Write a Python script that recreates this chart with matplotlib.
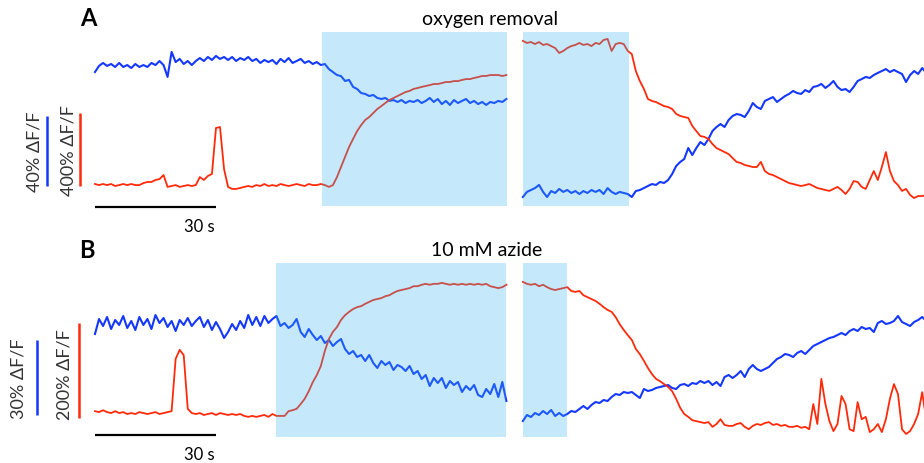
import numpy as np
import matplotlib
matplotlib.use("Agg")
import matplotlib.pyplot as plt

plt.rcParams["font.family"] = ["Lato", "DejaVu Sans"]

# sampling: one value per second; the right-hand segment is shown after a short break
DT = 1.0
RIGHT_START = 106.1

# ---- panel A: oxygen removal (blue and red in % dF/F) ----
a_blue_left = [
    -4.6, -1.1, 0.6, -1.1, 0, -1.7, 0.6, -1.7, -0.6, -2.3, 0, -1.7, -0.6, -1.7, 0.6, -0.6,
    1.7, -0.6, -7.4, 6.9, 1.1, 2.9, 0, 1.7, -0.6, 1.7, 3.4, 1.7, 4.0, 2.3, 4.6, 2.9,
    4.0, 2.3, 4.0, 1.7, 3.4, 2.3, 4.0, 1.7, 2.9, 0.6, 2.3, 1.1, 2.3, 0, 2.9, 1.1,
    3.4, 0.6, 1.7, 2.9, 0.6, 1.7, 0, 1.1, -0.6, 0, -2.9, -4.6, -6.3, -6.9, -9.7, -9.1,
    -13.1, -14.3, -16.6, -17.1, -18.3, -17.7, -19.4, -20.0, -19.4, -21.1, -20.6, -21.7,
    -20.6, -22.3, -21.1, -21.7, -20.6, -22.3, -21.1, -19.4, -21.7, -20.0, -22.9, -21.1,
    -23.4, -20.6, -22.3, -21.1, -20.0, -22.3, -21.1, -22.9, -21.7, -23.4, -21.7, -22.3,
    -21.1, -21.7, -20.0,
]
a_red_left = [
    11, 5, 11, 5, 11, 0, 5, 11, 5, 11, 5, 5, 16, 22, 22, 33, 38, 60, -5, 0, 5, -5, 0, 5,
    0, 5, 49, 33, 55, 66, 318, 323, 93, -5, -16, -16, -11, -5, 0, -5, 5, 0, 11, 0, 5, 0,
    11, 5, 0, 5, 11, 5, 0, 11, 5, 5, 11, 5, -5, 5, 49, 104, 159, 214, 258, 301, 334, 362,
    378, 400, 422, 438, 455, 471, 482, 493, 504, 515, 521, 532, 537, 543, 548, 553, 559,
    559, 564, 570, 570, 575, 575, 581, 586, 586, 592, 597, 603, 603, 608, 608, 608, 603,
    608,
]
a_blue_right = [
    -76.0, -73.1, -72.0, -70.9, -69.1, -73.1, -76.0, -72.6, -73.7, -71.4, -73.1, -72.0,
    -73.7, -72.6, -74.3, -72.6, -73.7, -72.0, -73.1, -72.0, -74.3, -70.9, -73.1, -74.3,
    -73.1, -73.7, -74.3, -76.0, -72.6, -72.0, -70.9, -69.7, -68.6, -69.1, -67.4, -68.0,
    -66.3, -62.9, -58.3, -56.0, -54.3, -48.0, -52.0, -48.0, -44.6, -46.3, -42.9, -38.3,
    -36.0, -34.3, -36.0, -32.0, -29.7, -28.6, -29.1, -30.3, -26.9, -22.3, -24.6, -25.7,
    -21.1, -20.0, -18.9, -21.7, -20.0, -18.3, -17.1, -15.4, -16.6, -17.1, -14.9, -16.0,
    -13.1, -12.6, -11.4, -13.7, -12.0, -9.7, -13.1, -14.9, -14.3, -16.0, -13.1, -9.7,
    -8.6, -7.4, -8.0, -6.3, -5.1, -4.0, -2.9, -4.6, -3.4, -4.6, -5.7, -10.3, -6.3, -4.0,
    -5.7, -2.3, -5.1,
]
a_red_right = [
    795, 784, 789, 778, 789, 773, 778, 767, 756, 729, 740, 756, 767, 773, 784, 773, 778,
    767, 784, 778, 800, 806, 740, 778, 784, 778, 740, 723, 630, 575, 532, 477, 466, 460,
    449, 438, 433, 422, 395, 384, 378, 373, 329, 301, 274, 269, 258, 230, 208, 197, 186,
    175, 153, 132, 126, 115, 110, 104, 104, 132, 82, 66, 60, 49, 38, 27, 16, 11, 5, 0, 5,
    11, 0, -11, -16, -22, -27, -16, -5, -22, -44, -16, 27, 22, -5, -16, 33, 82, 33, 104,
    186, 82, 27, 5, -27, -16, -49, -66, -55, -55, -49,
]

# ---- panel B: 10 mM azide ----
b_blue_left = [
    -4.0, 2.0, -0.8, 2.8, -2.0, 1.6, -0.4, 3.2, -1.6, 1.2, -2.4, 2.8, -0.4, 2.0, -2.0,
    3.6, 0.4, 2.4, -1.2, 1.2, -2.8, 1.6, -0.4, 2.4, -0.8, 1.2, 2.8, -1.2, 1.6, -2.4, 0.8,
    -2.0, -5.6, -3.2, 0, -2.4, 1.2, -1.6, 3.6, -0.4, 2.8, -0.8, 3.2, 0.4, 2.0, 3.2, -0.8,
    0.4, -1.6, -0.4, 2.0, -3.2, -5.2, -2.0, -4.4, -6.4, -4.8, -7.6, -6.4, -8.8, -7.2,
    -6.0, -10.0, -12.0, -10.8, -13.2, -12.4, -14.8, -12.4, -15.6, -17.6, -14.8, -16.4,
    -15.2, -18.4, -16.4, -17.2, -18.8, -16.8, -20.0, -18.8, -22.0, -20.4, -24.8, -21.6,
    -23.6, -21.6, -25.6, -22.8, -24.4, -23.2, -27.2, -24.8, -26.4, -24.4, -28.4, -29.2,
    -26.0, -28.0, -24.0, -29.2, -23.2, -30.8,
]
b_red_left = [
    6, 4, 8, 4, 2, 6, 2, 4, 0, 2, 0, 4, 2, 0, 2, 4, 0, 2, 4, 6, 116, 135, 124, 11, 2, 0,
    2, -2, 0, 2, -2, 2, 0, -2, 0, -2, 0, -4, -6, -4, -6, -4, -2, -6, 0, -4, -4, -4, 6, 8,
    11, 21, 32, 48, 67, 82, 101, 133, 158, 173, 183, 198, 208, 215, 221, 225, 227, 232,
    236, 240, 242, 244, 248, 250, 255, 259, 261, 263, 265, 269, 269, 272, 274, 272, 274,
    274, 276, 274, 272, 274, 272, 274, 272, 274, 272, 274, 272, 274, 269, 267, 265, 267,
    272,
]
b_blue_right = [
    -38.8, -36.4, -37.2, -35.6, -36.4, -34.8, -36.0, -34.4, -36.8, -35.6, -36.8, -36.0,
    -34.8, -35.2, -34.0, -32.8, -34.0, -32.4, -31.2, -31.6, -30.4, -30.8, -29.2, -28.0,
    -28.4, -27.2, -27.6, -27.2, -28.4, -29.6, -26.0, -26.8, -26.4, -25.6, -25.2, -24.8,
    -24.4, -25.6, -26.0, -24.4, -24.0, -24.8, -23.6, -24.0, -22.8, -23.6, -22.8, -24.4,
    -23.2, -24.8, -21.2, -20.4, -21.6, -20.4, -18.8, -21.2, -18.0, -16.4, -18.0, -18.8,
    -18.0, -17.2, -15.6, -14.0, -13.2, -12.0, -12.4, -13.2, -11.6, -10.8, -12.0, -10.4,
    -8.8, -8.0, -7.2, -6.4, -5.6, -5.2, -4.4, -3.6, -4.4, -2.8, -2.0, -2.8, -1.2, -2.0,
    -1.6, -3.2, 0.4, 1.2, 0, 0.4, 1.2, 3.2, 0.8, 0, -0.8, 0.8, 1.6, 2.8, 1.2,
]
b_red_right = [
    278, 274, 272, 274, 269, 272, 267, 263, 261, 263, 265, 267, 259, 257, 259, 250, 246,
    242, 238, 232, 225, 219, 215, 204, 189, 177, 166, 156, 137, 126, 112, 97, 84, 74, 69,
    63, 57, 48, 32, 13, 0, -6, -13, -15, -17, -19, -17, -27, -21, -11, -23, -25, -25,
    -21, -19, -27, -32, -25, -21, -23, -19, -17, -23, -21, -25, -23, -27, -27, -25, -29,
    -27, -32, 21, -21, 74, 21, -15, -36, -21, 38, 21, -32, -36, 25, -11, -6, -38, -32,
    -21, -38, -11, 32, 63, 42, -32, -42, -36, -21, 0, 46, -11,
]

# drug application windows (s, on the plotted time axis)
a_windows = [(56.3, 102.2), (106.1, 132.4)]
b_windows = [(44.9, 101.9), (106.1, 117.0)]

BLUE = "#1438ff"
RED = "#ff2a0a"
SHADE = "#37b0f1"

fig = plt.figure(figsize=(9.24, 4.64), dpi=100)

panels = [
    dict(blue_l=a_blue_left, red_l=a_red_left, blue_r=a_blue_right, red_r=a_red_right,
         windows=a_windows, rect=[0, 0.5, 1, 0.5],
         blue_lim=(-95.43, 37.14), red_lim=(-246.6, 1024.8), span=(0.108, 0.858),
         tbar_y=-81.7, bbar=(-11.9, -70, 40), rbar=(-3.7, 0, 400)),
    dict(blue_l=b_blue_left, red_l=b_red_left, blue_r=b_blue_right, red_r=b_red_right,
         windows=b_windows, rect=[0, 0, 1, 0.5],
         blue_lim=(-55.6, 37.2), red_lim=(-103.1, 385.2), span=(0.114, 0.862),
         tbar_y=-44.4, bbar=(-14.4, -36.4, 30), rbar=(-4.0, -8, 200)),
]

for p in panels:
    ax = fig.add_axes(p["rect"])
    axr = ax.twinx()
    for a in (ax, axr):
        a.set_xlim(-23.55, 205.55)
        a.axis("off")
    ax.set_ylim(*p["blue_lim"])
    axr.set_ylim(*p["red_lim"])

    t_left = np.arange(len(p["blue_l"])) * DT
    t_right = RIGHT_START + np.arange(len(p["blue_r"])) * DT
    ax.plot(t_left, p["blue_l"], color=BLUE, lw=1.5)
    ax.plot(t_right, p["blue_r"], color=BLUE, lw=1.5)
    axr.plot(np.arange(len(p["red_l"])) * DT, p["red_l"], color=RED, lw=1.3)
    axr.plot(RIGHT_START + np.arange(len(p["red_r"])) * DT, p["red_r"], color=RED, lw=1.3)

    # stimulus shading sits over the traces
    for x0, x1 in p["windows"]:
        axr.axvspan(x0, x1, ymin=p["span"][0], ymax=p["span"][1],
                    color=SHADE, alpha=0.29, lw=0, zorder=5)

    # scale bars
    ax.plot([0, 30], [p["tbar_y"]] * 2, color="black", lw=1.6, solid_capstyle="butt")
    bx, by, blen = p["bbar"]
    ax.plot([bx, bx], [by, by + blen], color=BLUE, lw=1.8, solid_capstyle="butt")
    rx, ry, rlen = p["rbar"]
    axr.plot([rx, rx], [ry, ry + rlen], color=RED, lw=1.8, solid_capstyle="butt")


def ftext(x, y, s, **kw):
    fig.text(x / 924, 1 - y / 464, s, ha="center", va="center", **kw)


ftext(88, 18, "A", fontsize=17, fontweight="bold")
ftext(490, 20, "oxygen removal", fontsize=14)
ftext(199, 227, "30 s", fontsize=12)
ftext(35, 152, "40% \u0394F/F", fontsize=13, rotation=90, color="#333333")
ftext(68, 151, "400% \u0394F/F", fontsize=13, rotation=90, color="#333333")

ftext(87, 250, "B", fontsize=17, fontweight="bold")
ftext(487, 250, "10 mM azide", fontsize=14)
ftext(199, 455, "30 s", fontsize=12)
ftext(19, 379, "30% \u0394F/F", fontsize=13, rotation=90, color="#333333")
ftext(65, 375, "200% \u0394F/F", fontsize=13, rotation=90, color="#333333")

fig.savefig("out.png", dpi=100)
